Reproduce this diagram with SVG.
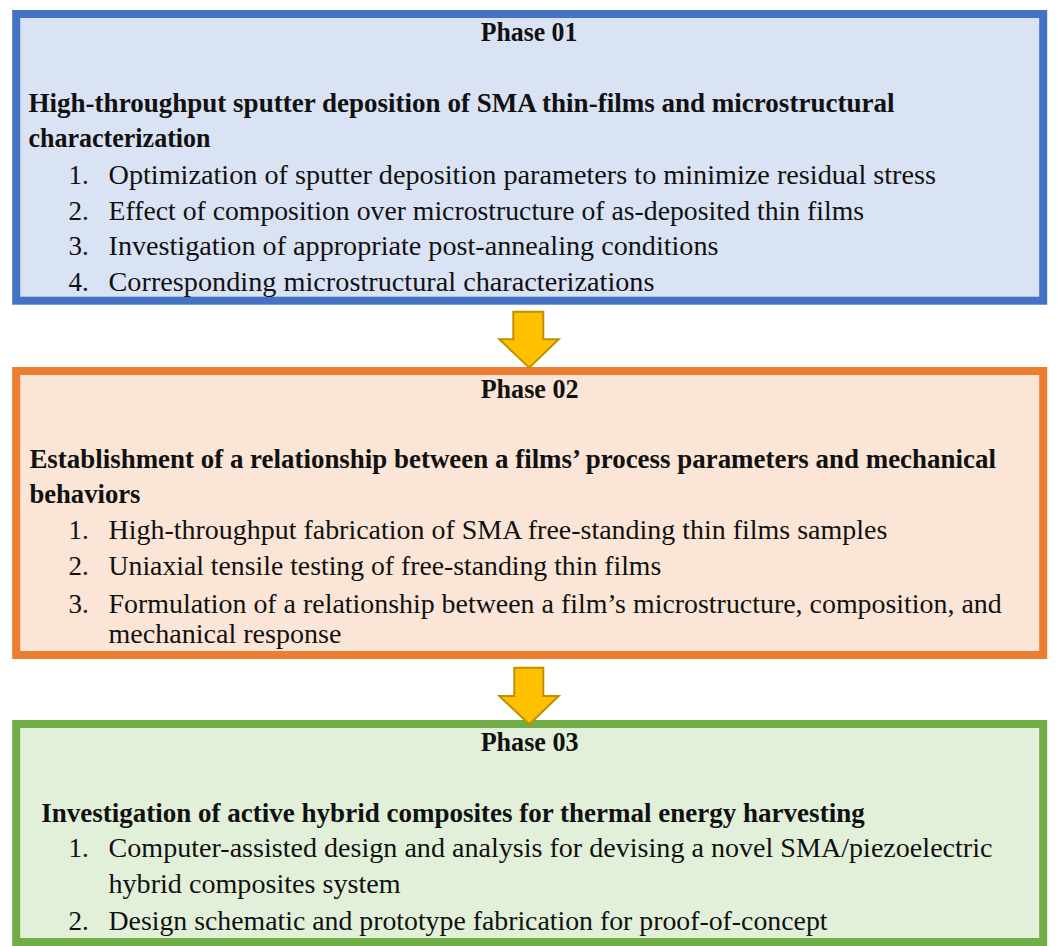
<svg xmlns="http://www.w3.org/2000/svg" width="1060" height="946" viewBox="0 0 1060 946">
<style>
.box{stroke-width:8}
.b1{fill:#DAE3F3;stroke:#4472C4}
.b2{fill:#FBE5D6;stroke:#ED7D31}
.b3{fill:#E2F0D9;stroke:#70AD47}
text{font-family:"Liberation Serif","Times New Roman",serif;font-size:27px;fill:#111}
.h{font-weight:bold}
.arrow{fill:#FFC000;stroke:#BF9000;stroke-width:2;stroke-linejoin:miter}
</style>
<rect width="1060" height="946" fill="#ffffff"/>
<g id="phase01">
<rect class="box b1" x="16.2" y="14" width="1027" height="286.7"/>
<text class="h" x="480.7" y="41" textLength="96.6" lengthAdjust="spacingAndGlyphs">Phase 01</text>
<text class="h" x="28.5" y="111.5" textLength="866" lengthAdjust="spacingAndGlyphs">High-throughput sputter deposition of SMA thin-films and microstructural</text>
<text class="h" x="28.5" y="146.7" textLength="182" lengthAdjust="spacingAndGlyphs">characterization</text>
<text x="68.5" y="184">1.</text>
<text x="108.5" y="184" textLength="827.5" lengthAdjust="spacingAndGlyphs">Optimization of sputter deposition parameters to minimize residual stress</text>
<text x="68.5" y="219.5">2.</text>
<text x="108.5" y="219.5" textLength="755.5" lengthAdjust="spacingAndGlyphs">Effect of composition over microstructure of as-deposited thin films</text>
<text x="68.5" y="255">3.</text>
<text x="108.5" y="255" textLength="610" lengthAdjust="spacingAndGlyphs">Investigation of appropriate post-annealing conditions</text>
<text x="68.5" y="291">4.</text>
<text x="108.5" y="291" textLength="546" lengthAdjust="spacingAndGlyphs">Corresponding microstructural characterizations</text>
</g>
<g id="phase02">
<rect class="box b2" x="16.2" y="371" width="1027" height="284"/>
<text class="h" x="480.7" y="398.3" textLength="97.8" lengthAdjust="spacingAndGlyphs">Phase 02</text>
<text class="h" x="29.4" y="468.3" textLength="966.5" lengthAdjust="spacingAndGlyphs">Establishment of a relationship between a films’ process parameters and mechanical</text>
<text class="h" x="29.4" y="503.3" textLength="111" lengthAdjust="spacingAndGlyphs">behaviors</text>
<text x="68.5" y="539.3">1.</text>
<text x="108.5" y="539.3" textLength="778.8" lengthAdjust="spacingAndGlyphs">High-throughput fabrication of SMA free-standing thin films samples</text>
<text x="68.5" y="575">2.</text>
<text x="108.5" y="575" textLength="552.7" lengthAdjust="spacingAndGlyphs">Uniaxial tensile testing of free-standing thin films</text>
<text x="68.5" y="613">3.</text>
<text x="108.5" y="613" textLength="893.2" lengthAdjust="spacingAndGlyphs">Formulation of a relationship between a film’s microstructure, composition, and</text>
<text x="108.5" y="643.3" textLength="232.9" lengthAdjust="spacingAndGlyphs">mechanical response</text>
</g>
<g id="phase03">
<rect class="box b3" x="16.2" y="724" width="1027" height="218"/>
<text class="h" x="480.7" y="750.7" textLength="97.8" lengthAdjust="spacingAndGlyphs">Phase 03</text>
<text class="h" x="41.2" y="821.7" textLength="823.5" lengthAdjust="spacingAndGlyphs">Investigation of active hybrid composites for thermal energy harvesting</text>
<text x="68.5" y="857.3">1.</text>
<text x="108.5" y="857.3" textLength="884" lengthAdjust="spacingAndGlyphs">Computer-assisted design and analysis for devising a novel SMA/piezoelectric</text>
<text x="108.5" y="893.3" textLength="292.1" lengthAdjust="spacingAndGlyphs">hybrid composites system</text>
<text x="68.5" y="930">2.</text>
<text x="108.5" y="930" textLength="719" lengthAdjust="spacingAndGlyphs">Design schematic and prototype fabrication for proof-of-concept</text>
</g>
<g id="connectors">
<path class="arrow" d="M513.3,311.7 L543.3,311.7 L543.3,339.3 L558.7,339.3 L529.3,367.7 L499.3,339.3 L513.3,339.3 Z"/>
<path class="arrow" d="M514.3,667.7 L543.3,667.7 L543.3,696 L558.7,696 L529.3,724.3 L499.3,696 L514.3,696 Z"/>
</g>
</svg>
